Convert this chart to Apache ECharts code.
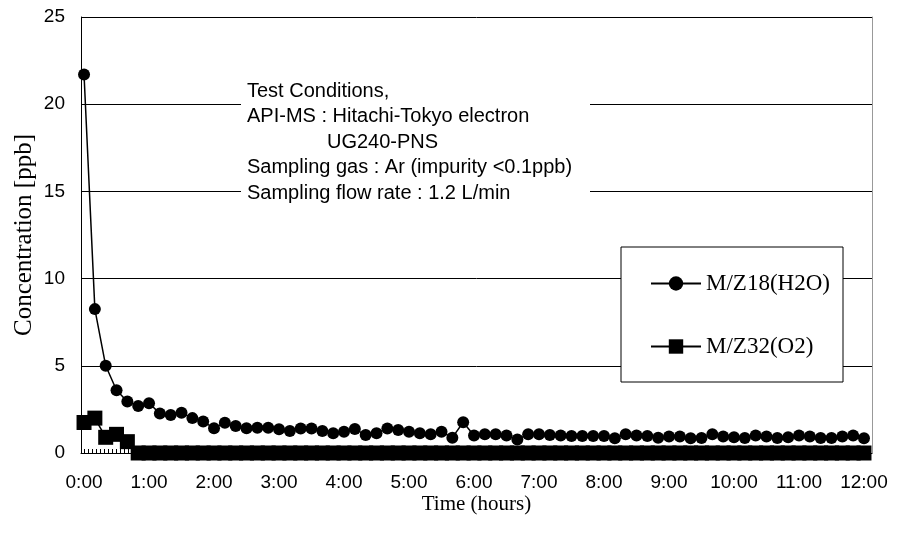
<!DOCTYPE html>
<html>
<head>
<meta charset="utf-8">
<script src="https://cdn.jsdelivr.net/npm/echarts@6/dist/echarts.min.js"></script>
<style>
html, body { margin: 0; padding: 0; background: #fff; }
#chart { width: 897px; height: 539px; }
</style>
</head>
<body>
<div id="chart"></div>
<script>
// sampling time, minutes from start (10 min step)
var minutes = [0,10,20,30,40,50,60,70,80,90,100,110,120,130,140,150,160,170,180,190,
	200,210,220,230,240,250,260,270,280,290,300,310,320,330,340,350,360,370,380,390,
	400,410,420,430,440,450,460,470,480,490,500,510,520,530,540,550,560,570,580,590,
	600,610,620,630,640,650,660,670,680,690,700,710,720];
// M/Z18 (H2O) ppb
var h2o = [21.7,8.25,5.0,3.6,2.95,2.7,2.85,2.27,2.18,2.31,2.0,1.8,1.42,1.74,1.55,1.42,1.45,1.45,1.36,1.26,
	1.41,1.41,1.26,1.13,1.22,1.38,1.03,1.13,1.41,1.32,1.22,1.13,1.07,1.22,0.88,1.76,1.0,1.07,1.07,1.0,
	0.78,1.07,1.07,1.03,1.0,0.97,0.97,0.97,0.97,0.84,1.07,1.0,0.97,0.88,0.94,0.94,0.84,0.86,1.07,0.94,
	0.9,0.86,1.0,0.94,0.86,0.9,1.0,0.94,0.86,0.86,0.94,1.0,0.84];
// M/Z32 (O2) ppb
var o2 = [1.75,2.0,0.9,1.07,0.65,0,0,0,0,0,0,0,0,0,0,0,0,0,0,0,
	0,0,0,0,0,0,0,0,0,0,0,0,0,0,0,0,0,0,0,0,
	0,0,0,0,0,0,0,0,0,0,0,0,0,0,0,0,0,0,0,0,
	0,0,0,0,0,0,0,0,0,0,0,0,0];
// x tick labels
var tickMinutes = [0,60,120,180,240,300,360,420,480,540,600,660,720];
var tickLabels = ["0:00","1:00","2:00","3:00","4:00","5:00","6:00","7:00","8:00","9:00","10:00","11:00","12:00"];
var seriesNames = ["M/Z18(H2O)","M/Z32(O2)"];
var noteLines = ["Test Conditions,","API-MS : Hitachi-Tokyo electron","UG240-PNS","Sampling gas : Ar (impurity <0.1ppb)","Sampling flow rate : 1.2 L/min"];

function pairs(ys){
	return ys.map(function(v, i){ return [minutes[i], v]; });
}
// little inside ticks along the time axis
var minorTicks = [];
for (var t = 0; t <= 720; t += 3.75) minorTicks.push(t);

var sans = "'Liberation Sans', Arial, sans-serif";
var serif = "'Liberation Serif', 'Times New Roman', serif";

var noteText = noteLines.map(function(s, i){
	return {
		type: "text",
		left: i == 2 ? 327 : 247,
		top: 81 + i * 25.5,
		z: 101,
		style: { text: s, fontFamily: sans, fontSize: 20, fill: "#000" }
	};
});

var myChart = echarts.init(document.getElementById("chart"));
var option = {
	animation: false,
	backgroundColor: "#fff",
	grid: { left: 81, right: 25, top: 17, bottom: 86 },
	xAxis: {
		type: "value",
		min: -2.8,
		max: 727.4,
		name: "Time (hours)",
		nameLocation: "middle",
		nameGap: 41,
		nameMoveOverlap: false,
		nameTextStyle: { fontFamily: serif, fontSize: 21, color: "#000" },
		axisLine: { lineStyle: { color: "#000", width: 1 } },
		axisTick: { show: true, inside: true, length: 4, customValues: minorTicks, lineStyle: { color: "#000" } },
		axisLabel: {
			customValues: tickMinutes,
			margin: 20,
			fontFamily: sans, fontSize: 19, color: "#000",
			formatter: function(v){ return tickLabels[tickMinutes.indexOf(v)]; }
		},
		splitLine: { show: false }
	},
	yAxis: [{
		type: "value",
		min: 0, max: 25, interval: 5,
		name: "Concentration [ppb]",
		nameLocation: "middle",
		nameGap: 44,
		nameMoveOverlap: false,
		nameTextStyle: { fontFamily: serif, fontSize: 25, color: "#000" },
		axisLine: { show: true, onZero: false, lineStyle: { color: "#000", width: 1 } },
		axisTick: { show: false },
		axisLabel: { margin: 16, fontFamily: sans, fontSize: 19, color: "#000" },
		splitLine: { lineStyle: { color: "#000", width: 1 } }
	}, {
		type: "value",
		position: "right",
		min: 0, max: 25, interval: 5,
		axisLine: { show: true, onZero: false, lineStyle: { color: "#999", width: 1 } },
		axisTick: { show: false },
		axisLabel: { show: false },
		splitLine: { show: false }
	}],
	legend: {
		data: seriesNames,
		orient: "vertical",
		left: 645,
		top: 267,
		z: 60,
		itemWidth: 50,
		itemHeight: 18,
		itemGap: 40,
		textStyle: { fontFamily: serif, fontSize: 23, color: "#000" }
	},
	graphic: [{
		type: "rect",
		z: 50,
		shape: { x: 621, y: 247, width: 222, height: 135 },
		style: { fill: "#fff", stroke: "#000", lineWidth: 1 }
	}, {
		type: "rect",
		z: 100,
		shape: { x: 241, y: 72, width: 349, height: 135 },
		style: { fill: "#fff" }
	}].concat(noteText),
	series: [{
		name: seriesNames[0],
		type: "line",
		data: pairs(h2o),
		symbol: "circle",
		symbolSize: 12,
		itemStyle: { color: "#000" },
		lineStyle: { color: "#000", width: 1.5 }
	}, {
		name: seriesNames[1],
		type: "line",
		data: pairs(o2),
		symbol: "rect",
		symbolSize: 15,
		itemStyle: { color: "#000" },
		lineStyle: { color: "#000", width: 1.5 }
	}]
};
myChart.setOption(option);
</script>
</body>
</html>
